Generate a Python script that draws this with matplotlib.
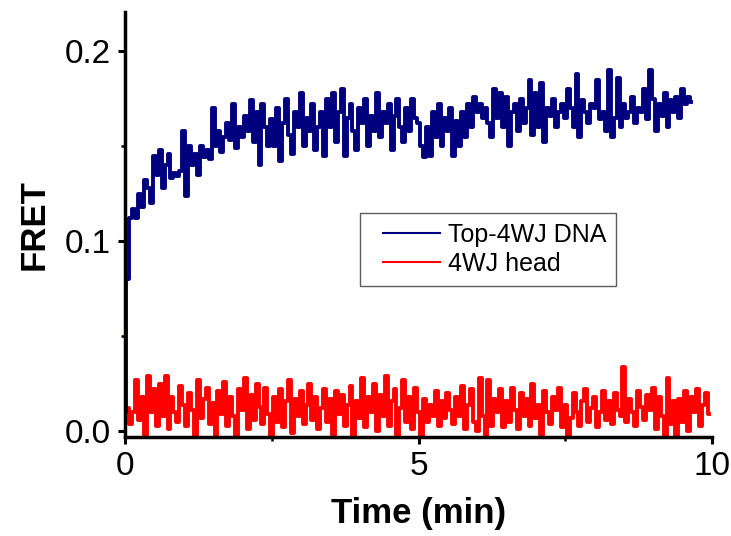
import numpy as np
import matplotlib
matplotlib.use("Agg")
import matplotlib.pyplot as plt
from matplotlib.legend_handler import HandlerLine2D
from matplotlib.lines import Line2D

plt.rcParams['font.family'] = ['Liberation Sans', 'DejaVu Sans']

dt = 0.05

blue_label = "Top-4WJ DNA"
red_label = "4WJ head"

blue_vals = [
    0.010, 0.080, 0.112, 0.117, 0.112, 0.125, 0.118, 0.132, 0.128, 0.120,
    0.145, 0.135, 0.148, 0.128, 0.140, 0.146, 0.133, 0.136, 0.134, 0.137,
    0.158, 0.124, 0.150, 0.140, 0.146, 0.135, 0.150, 0.144, 0.148, 0.143,
    0.170, 0.150, 0.158, 0.147, 0.155, 0.162, 0.153, 0.172, 0.149, 0.160,
    0.155, 0.166, 0.158, 0.174, 0.152, 0.168, 0.140, 0.172, 0.160, 0.150,
    0.164, 0.150, 0.170, 0.142, 0.162, 0.175, 0.156, 0.146, 0.168, 0.160,
    0.178, 0.150, 0.165, 0.158, 0.172, 0.148, 0.160, 0.168, 0.145, 0.175,
    0.160, 0.178, 0.152, 0.168, 0.180, 0.145, 0.165, 0.172, 0.158, 0.148,
    0.170, 0.162, 0.175, 0.150, 0.166, 0.158, 0.178, 0.155, 0.168, 0.162,
    0.172, 0.148, 0.166, 0.175, 0.160, 0.152, 0.170, 0.158, 0.175, 0.165,
    0.162, 0.150, 0.144, 0.160, 0.145, 0.168, 0.155, 0.172, 0.150, 0.165,
    0.158, 0.170, 0.145, 0.163, 0.150, 0.168, 0.155, 0.172, 0.160, 0.176,
    0.168, 0.172, 0.165, 0.170, 0.162, 0.155, 0.180, 0.165, 0.178, 0.160,
    0.176, 0.150, 0.168, 0.172, 0.158, 0.175, 0.162, 0.170, 0.185, 0.156,
    0.178, 0.160, 0.183, 0.152, 0.170, 0.166, 0.175, 0.160, 0.168, 0.172,
    0.165, 0.180, 0.170, 0.160, 0.188, 0.155, 0.174, 0.168, 0.162, 0.172,
    0.170, 0.185, 0.164, 0.168, 0.158, 0.190, 0.155, 0.165, 0.186, 0.160,
    0.172, 0.165, 0.168, 0.176, 0.162, 0.170, 0.168, 0.180, 0.164, 0.190,
    0.175, 0.158, 0.172, 0.166, 0.178, 0.160, 0.174, 0.168, 0.176, 0.165,
    0.180, 0.172, 0.176, 0.173,
]

red_vals = [
    0.012, 0.012, 0.004, 0.010, 0.027, 0.006, 0.018, -0.002, 0.029, 0.010,
    0.022, 0.003, 0.025, 0.008, 0.029, 0.001, 0.018, 0.010, 0.005, 0.024,
    0.014, 0.003, 0.020, 0.011, -0.003, 0.027, 0.007, 0.017, 0.023, 0.004,
    0.015, -0.003, 0.021, 0.009, 0.026, 0.003, 0.018, 0.008, -0.003, 0.022,
    0.011, 0.028, 0.001, 0.019, 0.006, 0.025, 0.013, 0.004, 0.023, 0.009,
    -0.004, 0.018, 0.005, 0.022, 0.002, 0.016, 0.027, -0.001, 0.017, 0.008,
    0.021, 0.004, 0.014, 0.025, 0.006, 0.018, 0.001, 0.012, 0.022, 0.005,
    0.017, -0.002, 0.021, 0.009, 0.019, 0.003, 0.014, 0.024, -0.003, 0.016,
    0.007, 0.028, 0.002, 0.018, 0.010, 0.025, 0.000, 0.019, 0.008, 0.029,
    0.003, 0.016, 0.022, -0.003, 0.012, 0.027, 0.005, 0.018, 0.001, 0.023,
    0.010, -0.003, 0.017, 0.005, 0.014, 0.008, 0.021, 0.003, 0.016, 0.007,
    0.020, 0.011, 0.004, 0.018, 0.008, 0.024, 0.001, 0.014, 0.022, 0.005,
    0.000, 0.028, 0.008, -0.003, 0.027, 0.003, 0.017, 0.010, 0.022, 0.002,
    0.016, 0.005, 0.023, 0.011, 0.001, 0.020, 0.008, 0.017, 0.003, 0.025,
    0.007, 0.014, -0.002, 0.021, 0.010, 0.004, 0.018, 0.011, 0.023, 0.002,
    0.014, -0.003, 0.007, 0.020, 0.010, 0.003, 0.016, 0.022, 0.005, 0.012,
    0.018, 0.002, 0.010, 0.021, 0.006, 0.016, 0.004, 0.020, 0.011, 0.008,
    0.034, 0.005, 0.017, 0.010, 0.003, 0.021, 0.013, 0.006, 0.019, 0.011,
    0.023, 0.001, 0.018, 0.008, -0.003, 0.028, 0.004, 0.016, -0.003, 0.017,
    0.005, 0.021, 0.000, 0.018, 0.010, 0.022, 0.003, 0.014, 0.020, 0.009,
]

t_blue = np.arange(len(blue_vals)) * dt
t_red = np.arange(len(red_vals)) * dt

fig = plt.figure(figsize=(7.31, 5.36), dpi=100)
ax = fig.add_axes([125/731, 1 - 437/536, (712-125)/731, (437-12)/536])

ax.plot(t_red, red_vals, color='#FF0000', lw=2.8, drawstyle='steps-mid', label=red_label)
ax.plot(t_blue, blue_vals, color='#00007F', lw=2.8, drawstyle='steps-mid', label=blue_label)

ax.set_xlim(0, 10)
ax.set_ylim(-0.003, 0.2205)
ax.set_xticks([0, 5, 10])
ax.set_xticklabels(['0', '5', '10'])
ax.set_xticks([2.5, 7.5], minor=True)
ax.set_yticks([0.0, 0.1, 0.2])
ax.set_yticklabels(['0.0', '0.1', '0.2'])
ax.set_yticks([0.05, 0.15], minor=True)

for s in ['top', 'right']:
    ax.spines[s].set_visible(False)
for s in ['left', 'bottom']:
    ax.spines[s].set_linewidth(2.5)
    ax.spines[s].set_color('black')

ax.tick_params(which='major', direction='out', length=5, width=2.2, labelsize=24, pad=5)
ax.tick_params(which='minor', direction='out', length=3, width=1.8)

ax.set_xlabel('Time (min)', fontsize=25, fontweight='bold', labelpad=11)
ax.set_ylabel('FRET', fontsize=25, fontweight='bold', labelpad=10)

handles, labels = ax.get_legend_handles_labels()
proxy = [Line2D([], [], color=h.get_color(), lw=1.5) for h in handles[::-1]]
leg = ax.legend(proxy, labels[::-1], loc='upper left', bbox_to_anchor=(0.40, 0.527),
                borderaxespad=0, fontsize=18, frameon=True, fancybox=False,
                handlelength=2.8, handletextpad=0.32, labelspacing=0.2, borderpad=0.4,
                handler_map={Line2D: HandlerLine2D(xpad=0.52)})
leg.get_frame().set_edgecolor('#333333')
leg.get_frame().set_linewidth(1.0)

fig.savefig('out.png', dpi=100)
